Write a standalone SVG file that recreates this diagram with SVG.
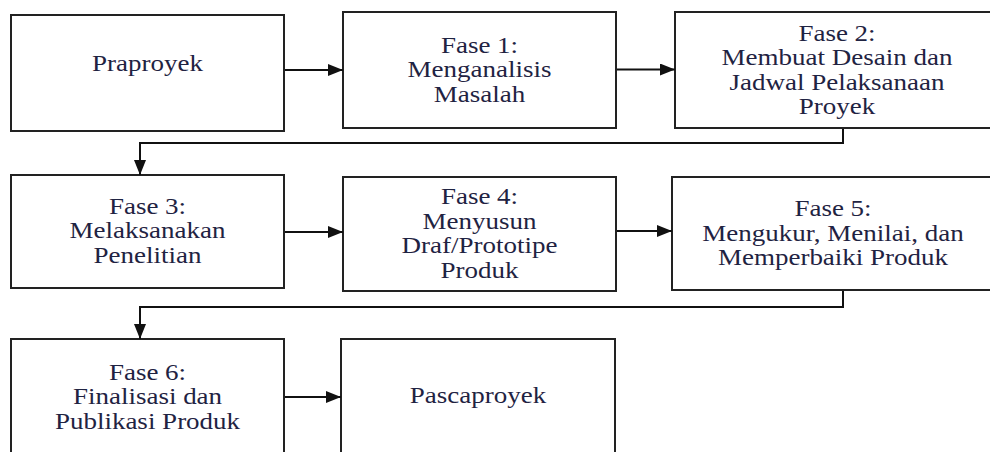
<svg xmlns="http://www.w3.org/2000/svg" width="990" height="452" viewBox="0 0 990 452">
<defs>
<style>
.box{fill:#fff;stroke:#222;stroke-width:2}
.lbl{font-family:"Liberation Serif","Times New Roman",serif;font-size:22.5px;fill:#1f2342;text-anchor:middle}
.con{fill:none;stroke:#111;stroke-width:2}
</style>
<marker id="ah" markerWidth="15" markerHeight="12" refX="15" refY="6" orient="auto" markerUnits="userSpaceOnUse">
<path d="M0,0 L15,6 L0,12 Z" fill="#111"/>
</marker>
</defs>
<rect width="990" height="452" fill="#fff"/>
<g id="praproyek">
<rect class="box" x="11" y="15" width="273" height="116"/>
<text class="lbl" transform="translate(147.5 0) scale(1.2 1)"><tspan x="0" y="71">Praproyek</tspan></text>
</g>
<g id="fase1">
<rect class="box" x="343" y="12" width="273" height="116"/>
<text class="lbl" transform="translate(479.5 0) scale(1.2 1)"><tspan x="0" y="53">Fase 1:</tspan><tspan x="0" y="77.5">Menganalisis</tspan><tspan x="0" y="102">Masalah</tspan></text>
</g>
<g id="fase2">
<rect class="box" x="675" y="12" width="325" height="116"/>
<text class="lbl" transform="translate(837 0) scale(1.2 1)"><tspan x="0" y="41">Fase 2:</tspan><tspan x="0" y="65.5">Membuat Desain dan</tspan><tspan x="0" y="90">Jadwal Pelaksanaan</tspan><tspan x="0" y="114.5">Proyek</tspan></text>
</g>
<g id="fase3">
<rect class="box" x="11" y="175" width="273" height="113"/>
<text class="lbl" transform="translate(147.5 0) scale(1.2 1)"><tspan x="0" y="214">Fase 3:</tspan><tspan x="0" y="238.5">Melaksanakan</tspan><tspan x="0" y="263">Penelitian</tspan></text>
</g>
<g id="fase4">
<rect class="box" x="343" y="177" width="273" height="114"/>
<text class="lbl" transform="translate(479.5 0) scale(1.2 1)"><tspan x="0" y="204.5">Fase 4:</tspan><tspan x="0" y="229">Menyusun</tspan><tspan x="0" y="253.5">Draf/Prototipe</tspan><tspan x="0" y="278">Produk</tspan></text>
</g>
<g id="fase5">
<rect class="box" x="672" y="177" width="325" height="113"/>
<text class="lbl" transform="translate(833 0) scale(1.2 1)"><tspan x="0" y="216.5">Fase 5:</tspan><tspan x="0" y="241">Mengukur, Menilai, dan</tspan><tspan x="0" y="265.5">Memperbaiki Produk</tspan></text>
</g>
<g id="fase6">
<rect class="box" x="11" y="339" width="273" height="118"/>
<text class="lbl" transform="translate(147.5 0) scale(1.2 1)"><tspan x="0" y="380">Fase 6:</tspan><tspan x="0" y="404.5">Finalisasi dan</tspan><tspan x="0" y="429">Publikasi Produk</tspan></text>
</g>
<g id="pascaproyek">
<rect class="box" x="341" y="339" width="274" height="118"/>
<text class="lbl" transform="translate(478 0) scale(1.2 1)"><tspan x="0" y="403">Pascaproyek</tspan></text>
</g>
<g id="connectors">
<path class="con" marker-end="url(#ah)" d="M285,70 H343"/>
<path class="con" marker-end="url(#ah)" d="M617,69.5 H675"/>
<path class="con" marker-end="url(#ah)" d="M843,129 V143 H140 V175"/>
<path class="con" marker-end="url(#ah)" d="M285,232 H343"/>
<path class="con" marker-end="url(#ah)" d="M617,231 H672"/>
<path class="con" marker-end="url(#ah)" d="M843,291 V307 H140 V339"/>
<path class="con" marker-end="url(#ah)" d="M285,397 H341"/>
</g>
</svg>
